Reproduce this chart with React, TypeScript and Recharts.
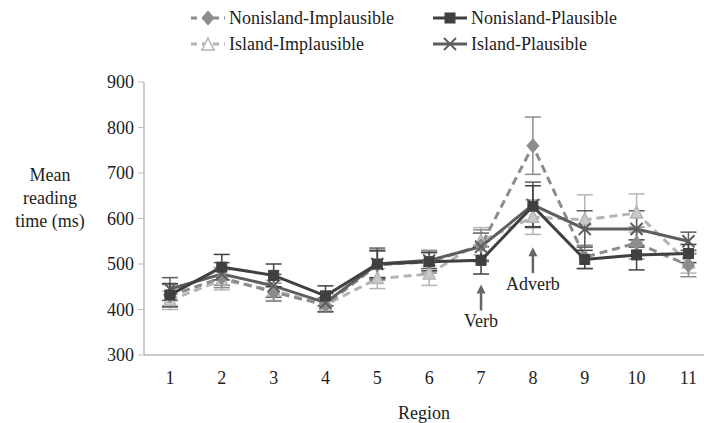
import React from 'react';
import { LineChart, Line, XAxis, YAxis, ErrorBar, Legend, ReferenceDot, Label } from 'recharts';

const regions = [1, 2, 3, 4, 5, 6, 7, 8, 9, 10, 11];
const nonislandImplausible = [430, 470, 438, 410, 498, 505, 540, 760, 515, 546, 497];
const nonislandPlausible = [432, 493, 475, 430, 500, 505, 508, 627, 510, 520, 523];
const islandImplausible = [420, 465, 442, 410, 468, 478, 550, 603, 597, 612, 502];
const islandPlausible = [445, 478, 452, 415, 500, 508, 538, 630, 577, 577, 550];

const nonislandImplausibleErr = [25, 22, 20, 15, 30, 25, 35, 63, 25, 35, 25];
const nonislandPlausibleErr = [25, 28, 25, 22, 30, 20, 30, 45, 20, 33, 20];
const islandImplausibleErr = [20, 22, 22, 15, 22, 25, 30, 38, 55, 42, 22];
const islandPlausibleErr = [25, 25, 25, 20, 35, 18, 30, 50, 40, 40, 20];

const yTicks = [300, 400, 500, 600, 700, 800, 900];
const boundaryTicks = [1.5, 2.5, 3.5, 4.5, 5.5, 6.5, 7.5, 8.5, 9.5, 10.5];

const annotationX = [7, 8];
const annotationY = [455, 537];
const annotationText = ['Verb', 'Adverb'];

const data = regions.map((r, i) => ({
  region: r,
  niImpl: nonislandImplausible[i],
  niPl: nonislandPlausible[i],
  iImpl: islandImplausible[i],
  iPl: islandPlausible[i],
  niImplErr: nonislandImplausibleErr[i],
  niPlErr: nonislandPlausibleErr[i],
  iImplErr: islandImplausibleErr[i],
  iPlErr: islandPlausibleErr[i],
}));

const FONT = '"Liberation Serif", "Times New Roman", serif';
const FS = 18;
const C_NI_IMPL = '#8c8c8c';
const C_NI_PL = '#404040';
const C_I_IMPL = '#b4b4b4';
const C_I_PL = '#5e5e5e';

const Diamond = ({ cx, cy, color }: any) => (
  <polygon points={`${cx},${cy - 7} ${cx + 6},${cy} ${cx},${cy + 7} ${cx - 6},${cy}`} fill={color} stroke={color} />
);
const Square = ({ cx, cy, color }: any) => (
  <rect x={cx - 5} y={cy - 5} width={10} height={10} fill={color} stroke={color} />
);
const Triangle = ({ cx, cy, color, fill }: any) => (
  <polygon points={`${cx},${cy - 7} ${cx + 6},${cy + 5} ${cx - 6},${cy + 5}`} fill={fill} stroke={color} strokeWidth={1.5} />
);
const XMark = ({ cx, cy, color }: any) => (
  <g stroke={color} strokeWidth={2}>
    <line x1={cx - 6} y1={cy - 6} x2={cx + 6} y2={cy + 6} />
    <line x1={cx - 6} y1={cy + 6} x2={cx + 6} y2={cy - 6} />
  </g>
);

const legendItems = [
  { name: 'Nonisland-Implausible', color: C_NI_IMPL, dashed: true, marker: 'diamond' },
  { name: 'Nonisland-Plausible', color: C_NI_PL, dashed: false, marker: 'square' },
  { name: 'Island-Implausible', color: C_I_IMPL, dashed: true, marker: 'triangle' },
  { name: 'Island-Plausible', color: C_I_PL, dashed: false, marker: 'x' },
];

const LegendIcon = ({ item }: any) => (
  <svg width={38} height={16} style={{ display: 'block' }}>
    <line x1={2} y1={8} x2={36} y2={8} stroke={item.color} strokeWidth={3} strokeDasharray={item.dashed ? '6 5' : undefined} />
    {item.marker === 'diamond' && <Diamond cx={19} cy={8} color={item.color} />}
    {item.marker === 'square' && <Square cx={19} cy={8} color={item.color} />}
    {item.marker === 'triangle' && <Triangle cx={19} cy={9} color={item.color} fill="#fff" />}
    {item.marker === 'x' && <XMark cx={19} cy={8} color={item.color} />}
  </svg>
);

const renderLegend = () => (
  <div style={{ position: 'relative', width: 704, height: 60, fontFamily: FONT, fontSize: FS, color: '#222' }}>
    {legendItems.map((item, i) => (
      <div
        key={item.name}
        style={{
          position: 'absolute',
          left: i % 2 === 0 ? 189 : 431,
          top: i < 2 ? 7 : 33,
          display: 'flex',
          alignItems: 'center',
          whiteSpace: 'nowrap',
          lineHeight: '22px',
        }}
      >
        <LegendIcon item={item} />
        <span style={{ marginLeft: 2 }}>{item.name}</span>
      </div>
    ))}
  </div>
);

const Annotation = ({ cx, cy, text }: any) => (
  <g>
    <line x1={cx} y1={cy + 6} x2={cx} y2={cy + 26} stroke="#666" strokeWidth={2.5} />
    <polygon points={`${cx},${cy} ${cx - 4.5},${cy + 9} ${cx + 4.5},${cy + 9}`} fill="#666" />
    <text x={cx} y={cy + 43} textAnchor="middle" fontFamily={FONT} fontSize={FS} fill="#222">{text}</text>
  </g>
);

const YLabel = () => {
  const x = 50;
  return (
    <text x={x} textAnchor="middle" fontFamily={FONT} fontSize={FS} fill="#222">
      <tspan x={x} y={181}>Mean</tspan>
      <tspan x={x} y={204}>reading</tspan>
      <tspan x={x} y={227}>time (ms)</tspan>
    </text>
  );
};

export default function App() {
  return (
    <div style={{ position: 'absolute', left: 0, top: 0, width: 704, height: 423, background: '#fff' }}>
      <LineChart width={704} height={423} data={data} margin={{ top: 22, right: 0, bottom: 0, left: 84 }}>
        <Legend verticalAlign="top" height={60} content={renderLegend} wrapperStyle={{ top: 0, left: 0 }} />
        <XAxis
          xAxisId="grid"
          type="number"
          dataKey="region"
          domain={[0.5, 11.3]}
          ticks={boundaryTicks}
          tick={false}
          tickLine={{ stroke: '#bbb' }}
          tickSize={5}
          axisLine={false}
          height={0}
        />
        <XAxis
          type="number"
          dataKey="region"
          domain={[0.5, 11.3]}
          allowDataOverflow
          ticks={regions}
          tickLine={false}
          axisLine={{ stroke: '#bbb', strokeWidth: 1.5 }}
          tick={{ fontFamily: FONT, fontSize: FS, fill: '#222' }}
          tickMargin={10}
          height={68}
        >
          <Label value="Region" position="insideBottom" offset={4} style={{ fontFamily: FONT, fontSize: FS, fill: '#222' }} />
        </XAxis>
        <YAxis
          domain={[300, 900]}
          ticks={yTicks}
          width={60}
          tickSize={6}
          tickLine={{ stroke: '#bbb' }}
          axisLine={{ stroke: '#bbb', strokeWidth: 1.5 }}
          tick={{ fontFamily: FONT, fontSize: FS, fill: '#222' }}
          tickMargin={4}
          label={<YLabel />}
        />
        <Line
          dataKey="iImpl"
          stroke={C_I_IMPL}
          strokeWidth={3}
          strokeDasharray="8 5"
          isAnimationActive={false}
          dot={(p: any) => <Triangle key={p.index} cx={p.cx} cy={p.cy} color={C_I_IMPL} fill="#c8c8c8" />}
        >
          <ErrorBar dataKey="iImplErr" direction="y" width={8} stroke={C_I_IMPL} strokeWidth={1.5} />
        </Line>
        <Line
          dataKey="niImpl"
          stroke={C_NI_IMPL}
          strokeWidth={3}
          strokeDasharray="8 5"
          isAnimationActive={false}
          dot={(p: any) => <Diamond key={p.index} cx={p.cx} cy={p.cy} color={C_NI_IMPL} />}
        >
          <ErrorBar dataKey="niImplErr" direction="y" width={8} stroke={C_NI_IMPL} strokeWidth={1.5} />
        </Line>
        <Line
          dataKey="iPl"
          stroke={C_I_PL}
          strokeWidth={3}
          isAnimationActive={false}
          dot={(p: any) => <XMark key={p.index} cx={p.cx} cy={p.cy} color={C_I_PL} />}
        >
          <ErrorBar dataKey="iPlErr" direction="y" width={8} stroke={C_I_PL} strokeWidth={1.5} />
        </Line>
        <Line
          dataKey="niPl"
          stroke={C_NI_PL}
          strokeWidth={3}
          isAnimationActive={false}
          dot={(p: any) => <Square key={p.index} cx={p.cx} cy={p.cy} color={C_NI_PL} />}
        >
          <ErrorBar dataKey="niPlErr" direction="y" width={8} stroke={C_NI_PL} strokeWidth={1.5} />
        </Line>
        {annotationX.map((x, i) => (
          <ReferenceDot
            key={annotationText[i]}
            x={x}
            y={annotationY[i]}
            r={0}
            shape={(p: any) => <Annotation cx={p.cx} cy={p.cy} text={annotationText[i]} />}
          />
        ))}
      </LineChart>
    </div>
  );
}
